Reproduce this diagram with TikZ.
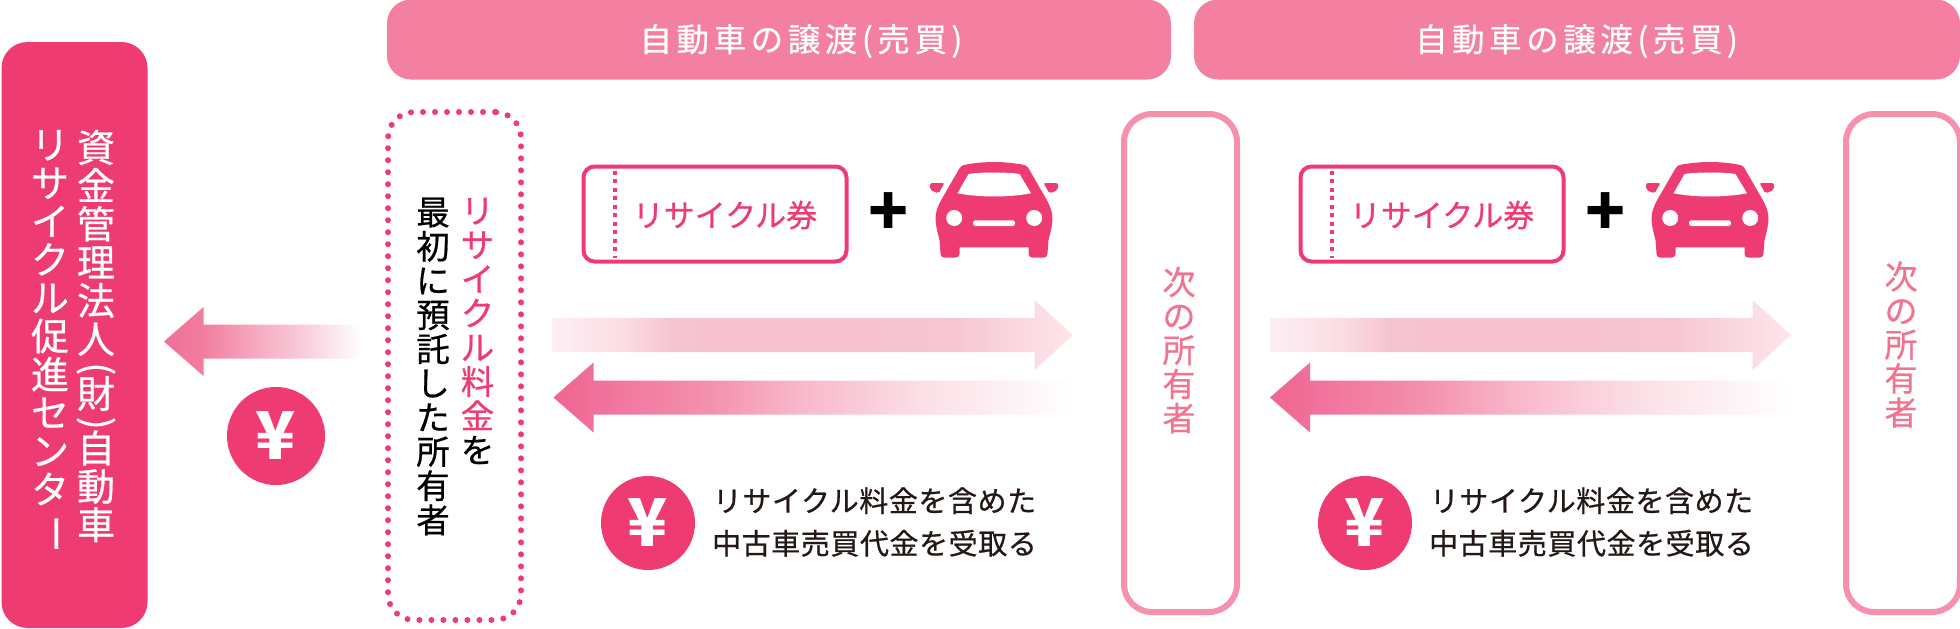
\documentclass[tikz,border=0pt]{standalone}
\usepackage{fontspec}
\usetikzlibrary{calc}
\newfontfamily\jpplain{Noto Sans CJK JP}
\newfontfamily\jpfont[FakeBold=0.6]{Noto Sans CJK JP}
\definecolor{mainpink}{HTML}{EE3B72}
\definecolor{barpink}{HTML}{F480A1}
\definecolor{edgepink}{HTML}{F590AD}
\definecolor{softpink}{HTML}{F27390}
\definecolor{inkblack}{HTML}{231815}
\definecolor{outz}{HTML}{FDEFF3}
\definecolor{outa}{HTML}{FADCE4}
\definecolor{outb}{HTML}{F6C3D2}
\definecolor{outc}{HTML}{F6C0D0}
\definecolor{outd}{HTML}{F7C6D4}
\definecolor{oute}{HTML}{FBDCE3}
\definecolor{outf}{HTML}{FCE6EA}
\definecolor{backa}{HTML}{EF6590}
\definecolor{backb}{HTML}{F1709A}
\definecolor{backc}{HTML}{F48FAE}
\definecolor{backd}{HTML}{F8B9CC}
\definecolor{backe}{HTML}{FBDEE6}
\definecolor{backf}{HTML}{FDF1F4}
\definecolor{paya}{HTML}{F06F97}
\definecolor{payb}{HTML}{F17E9F}
\definecolor{payc}{HTML}{F6AFC4}
\definecolor{payd}{HTML}{F9CADA}
% the middle 50bp of each shading is what lands on the path
\pgfdeclarehorizontalshading{fadeoutshade}{100bp}{color(0bp)=(outz); color(25bp)=(outz);
    color(32bp)=(outa); color(36.5bp)=(outb); color(51.5bp)=(outc); color(64bp)=(outd);
    color(71.3bp)=(oute); color(75bp)=(outf); color(100bp)=(outf)}
\pgfdeclarehorizontalshading{fadebackshade}{100bp}{color(0bp)=(backa); color(25bp)=(backa);
    color(29bp)=(backb); color(39.5bp)=(backc); color(49bp)=(backd); color(60bp)=(backe);
    color(68.5bp)=(backf); color(75bp)=(white); color(100bp)=(white)}
\pgfdeclarehorizontalshading{fadepayshade}{100bp}{color(0bp)=(paya); color(25bp)=(paya);
    color(35bp)=(payb); color(50bp)=(payc); color(59.5bp)=(payd); color(75bp)=(white); color(100bp)=(white)}
\newcommand{\blockarrow}[6]{
    \path[#1] ($(#2)+(0,-#5)$) -- ($(#3)+({-(#4)},-#5)$) -- ($(#3)+({-(#4)},-#6)$) -- (#3)
        -- ($(#3)+({-(#4)},#6)$) -- ($(#3)+({-(#4)},#5)$) -- ($(#2)+(0,#5)$) -- cycle;
}
% a glyph turned for a column of text, taking no height of its own
\newcommand{\turned}[1]{\raisebox{0pt}[0pt][0pt]{\rotatebox[origin=c]{-90}{#1}}}
\tikzset{
    salebar/.style={fill=barpink,rounded corners=24pt,minimum height=80pt,inner sep=0pt},
    saletext/.style={text=white,font={\jpfont\fontsize{32.5}{32.5}\selectfont\addfontfeature{LetterSpace=14}}},
    vtext/.style 2 args={align=center,inner sep=0pt,font={\jpfont\fontsize{#1}{#2}\selectfont}},
    ownerbox/.style={draw=edgepink,line width=6pt,fill=white,rounded corners=28pt,inner sep=0pt},
    ticketbox/.style={draw=mainpink,line width=4pt,rounded corners=11pt,minimum width=263pt,minimum height=95pt,inner sep=0pt},
    ticketperf/.style={draw=mainpink,line width=4pt,dash pattern=on 4pt off 4.5pt},
    tickettext/.style={text=mainpink,font={\jpfont\fontsize{31}{31}\selectfont}},
    plussign/.style={inner sep=0pt,text=black,font={\jpplain\bfseries\fontsize{66}{66}\selectfont}},
    yencoin/.style={circle,fill=mainpink,text=white,inner sep=0pt,minimum size=#1,font={\jpplain\bfseries\fontsize{66}{66}\selectfont}},
    paytext/.style={text=inkblack,align=center,inner sep=0pt,font={\jpfont\fontsize{29}{42.6}\selectfont\addfontfeature{LetterSpace=2}}},
    fadeout/.style={shading=fadeoutshade},
    fadeback/.style={shading=fadebackshade},
    fadesmall/.style={shading=fadepayshade},
    pics/carfront/.style={code={
        % roof top sits at y=0, x=0 is the middle of the car
        \fill[mainpink] (-30.5,3) .. controls (-20,1) and (-10,0) .. (0,0) .. controls (10,0) and (20,1) .. (30.5,3)
            .. controls (32,3.5) and (33.5,5) .. (34.5,6.3) -- (52.8,38) .. controls (56,44) and (58.5,50) .. (58.5,56.3)
            .. controls (58.5,64) and (56,72) .. (54.5,78) -- (53.5,91.3) .. controls (53.5,94) and (52,95.7) .. (49.5,95.7)
            -- (39,95.7) .. controls (36,95.7) and (34.5,94) .. (34.5,92) -- (34.5,85.3) -- (-34.5,85.3) -- (-34.5,92)
            .. controls (-34.5,94) and (-36,95.7) .. (-39,95.7) -- (-49.5,95.7) .. controls (-52,95.7) and (-53.5,94) .. (-53.5,91.3)
            -- (-54.5,78) .. controls (-56,72) and (-58.5,64) .. (-58.5,56.3) .. controls (-58.5,50) and (-56,44) .. (-52.8,38)
            -- (-34.5,6.3) .. controls (-33.5,5) and (-32,3.5) .. (-30.5,3) -- cycle;
        \fill[white] (-25.5,12) .. controls (-15,10) and (15,10) .. (25.5,12) -- (37,31.3)
            .. controls (15,35.5) and (-15,35.5) .. (-36.5,31.3) -- cycle;
        \fill[white] (-39.8,56) circle (8);
        \fill[white] (40.2,56) circle (8);
        \fill[white,rounded corners=2.5pt] (-21,58.3) rectangle (21,64);
        \fill[mainpink,rounded corners=2pt] (-63.8,21) -- (-49.5,21) -- (-55.5,31.5) -- (-63.8,28) -- cycle;
        \fill[mainpink,rounded corners=2pt] (63.8,21) -- (49.5,21) -- (55.5,31.5) -- (63.8,28) -- cycle;
    }},
}
\begin{document}
\begin{tikzpicture}[x=1pt,y=-1pt]
    \useasboundingbox (0,0) rectangle (1960,629);
    % top bars
    \node[salebar,minimum width=784pt] (salea) at (779,39.5) {};
    \node[salebar,minimum width=766pt] (saleb) at (1577,39.5) {};
    \node[saletext] (saleatext) at (801,41) {自動車の譲渡(売買)};
    \node[saletext] (salebtext) at (1576.5,41) {自動車の譲渡(売買)};
    % management centre
    \node[fill=mainpink,rounded corners=26pt,minimum width=146pt,minimum height=586pt,inner sep=0pt] (centre) at (74.5,335) {};
    \node[vtext={38}{38.3},text=white] (centrea) at (96,336)
        {資\\金\\管\\理\\法\\人\\[-11pt]\turned{(}\\[-11pt]財\\[-11pt]\turned{)}\\[-11pt]自\\動\\車};
    \node[vtext={38}{38.3},text=white] (centreb) at (50,336)
        {リ\\サ\\イ\\ク\\ル\\促\\進\\セ\\ン\\タ\\\turned{ー}};
    % first owner
    \node[draw=mainpink,line width=6pt,line cap=round,dash pattern=on 0pt off 12pt,rounded corners=26pt,
        minimum width=133pt,minimum height=508pt,inner sep=0pt] (firstowner) at (454.5,366) {};
    \node[vtext={33.5}{34.2},text=mainpink] (firsta) at (477.5,331)
        {リ\\サ\\イ\\ク\\ル\\料\\金\\\textcolor{black}{を}};
    \node[vtext={33.5}{34.2},text=black] (firstb) at (433,366.5)
        {最\\初\\に\\預\\託\\し\\た\\所\\有\\者};
    % next owners
    \node[ownerbox,minimum width=113pt,minimum height=498pt] (nexta) at (1180.5,363) {};
    \node[ownerbox,minimum width=114pt,minimum height=498pt] (nextb) at (1903,363) {};
    \node[vtext={33}{34},text=softpink] (nextatext) at (1179,350) {次\\の\\所\\有\\者};
    \node[vtext={33}{34},text=softpink] (nextbtext) at (1901,344.5) {次\\の\\所\\有\\者};
    % tickets and cars
    \node[ticketbox] (ticketa) at (715,214) {};
    \node[ticketbox] (ticketb) at (1432,214) {};
    \draw[ticketperf] ($(ticketa.north west)+(33,6)$) -- ($(ticketa.south west)+(33,-6)$);
    \draw[ticketperf] ($(ticketb.north west)+(33,6)$) -- ($(ticketb.south west)+(33,-6)$);
    \node[tickettext] (ticketatext) at (725,215) {リサイクル券};
    \node[tickettext] (ticketbtext) at (1442,215) {リサイクル券};
    \node[plussign] (plusa) at (888.5,214) {+};
    \node[plussign] (plusb) at (1605.5,214) {+};
    \pic at (994,162) {carfront};
    \pic at (1710,162) {carfront};
    % arrows
    \coordinate (outatail) at (552,335);
    \coordinate (outatip) at (1073,335);
    \coordinate (backatail) at (1075,397.5);
    \coordinate (backatip) at (553.5,397.5);
    \coordinate (outbtail) at (1270,335);
    \coordinate (outbtip) at (1791,335);
    \coordinate (backbtail) at (1791,397.5);
    \coordinate (backbtip) at (1270,397.5);
    \coordinate (paytail) at (362,341.5);
    \coordinate (paytip) at (164,341.5);
    \blockarrow{fadeout}{outatail}{outatip}{38.5}{17}{35}
    \blockarrow{fadeback}{backatail}{backatip}{-40}{17}{35}
    \blockarrow{fadeout}{outbtail}{outbtip}{38.5}{17}{35}
    \blockarrow{fadeback}{backbtail}{backbtip}{-40}{17}{35}
    \blockarrow{fadesmall}{paytail}{paytip}{-39.5}{17}{34.5}
    % yen and payment notes
    \node[yencoin=98pt] (yenpay) at (276,436) {¥};
    \node[yencoin=94pt] (yena) at (648,523) {¥};
    \node[yencoin=94pt] (yenb) at (1365,523) {¥};
    \node[paytext] (paya) at (874.5,522) {リサイクル料金を含めた\\中古車売買代金を受取る};
    \node[paytext] (payb) at (1591.5,522) {リサイクル料金を含めた\\中古車売買代金を受取る};
\end{tikzpicture}
\end{document}
